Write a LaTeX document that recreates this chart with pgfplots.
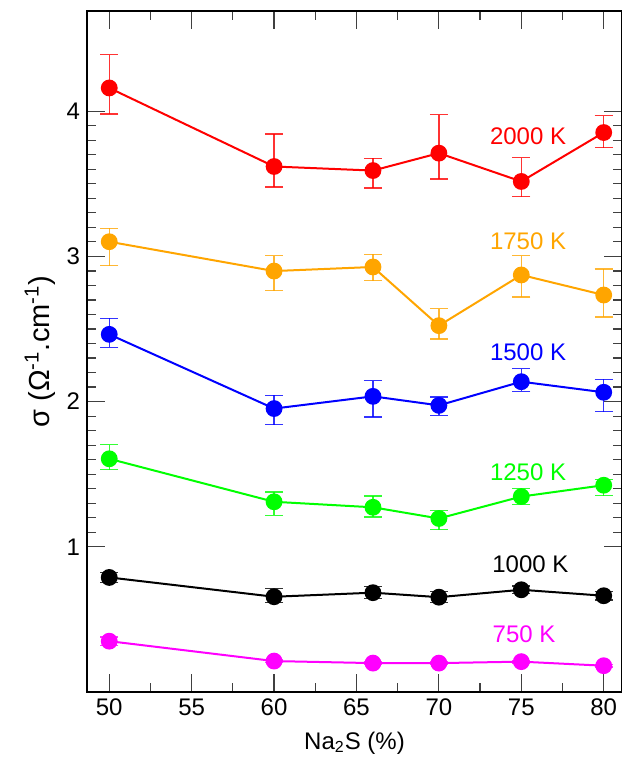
\documentclass[border=0pt]{standalone}
\usepackage{pgfplots}
\pgfplotsset{compat=1.18}
\usepackage{fontspec}
\setmainfont{Liberation Sans}
\definecolor{cred}{RGB}{255,0,0}
\definecolor{corange}{RGB}{255,165,0}
\definecolor{cblue}{RGB}{0,0,255}
\definecolor{cgreen}{RGB}{0,255,0}
\definecolor{cmag}{RGB}{255,0,255}
\newcommand{\fs}{\fontsize{12}{14}\selectfont}
\begin{document}
\begin{tikzpicture}
\begin{axis}[
  scale only axis,
  width=267.5pt, height=340.5pt,
  xmin=48.65, xmax=81.11, ymin=0, ymax=4.69,
  xtick={50,55,60,65,70,75,80},
  minor x tick num=1,
  ytick={1,2,3,4},
  minor y tick num=9,
  tick align=inside,
  major tick length=9pt, minor tick length=4.5pt,
  tick style={line width=0.6pt, color=black!75},
  axis line style={line width=1pt, black},
  /pgf/number format/assume math mode=true,
  ticklabel style={font=\fs},
  xlabel={Na\textsubscript{2}S (\%)},
  ylabel={σ (Ω\textsuperscript{-1}.cm\textsuperscript{-1})},
  xlabel style={font=\fs, at={(axis description cs:0.5,-0.0749)}, anchor=center},
  ylabel style={font=\fontsize{14.5}{16}\selectfont, at={(axis description cs:-0.0879,0.5)}, anchor=center},
  every axis plot/.append style={line width=1pt, mark=*, mark size=3.7pt},
  error bars/y dir=both, error bars/y explicit,
  error bars/error bar style={line width=0.7pt, opacity=0.8},
  error bars/error mark options={rotate=90, mark size=4.5pt, line width=0.7pt, opacity=0.8},
]
% 2000 K
\addplot[color=cred, mark options={fill=cred}] coordinates {
 (50,4.160) += (0,0.230) -= (0,0.179)
 (60,3.619) += (0,0.224) -= (0,0.142)
 (66,3.591) += (0,0.084) -= (0,0.121)
 (70,3.711) += (0,0.266) -= (0,0.179)
 (75,3.516) += (0,0.164) -= (0,0.104)
 (80,3.853) += (0,0.117) -= (0,0.105)
};
% 1750 K
\addplot[color=corange, mark options={fill=corange}] coordinates {
 (50,3.101) += (0,0.092) -= (0,0.165)
 (60,2.899) += (0,0.107) -= (0,0.135)
 (66,2.927) += (0,0.086) -= (0,0.095)
 (70,2.523) += (0,0.117) -= (0,0.092)
 (75,2.872) += (0,0.134) -= (0,0.152)
 (80,2.734) += (0,0.179) -= (0,0.151)
};
% 1500 K
\addplot[color=cblue, mark options={fill=cblue}] coordinates {
 (50,2.463) += (0,0.110) -= (0,0.090)
 (60,1.952) += (0,0.091) -= (0,0.110)
 (66,2.036) += (0,0.108) -= (0,0.141)
 (70,1.974) += (0,0.058) -= (0,0.068)
 (75,2.137) += (0,0.090) -= (0,0.066)
 (80,2.064) += (0,0.089) -= (0,0.133)
};
% 1250 K
\addplot[color=cgreen, mark options={fill=cgreen}] coordinates {
 (50,1.606) += (0,0.098) -= (0,0.074)
 (60,1.310) += (0,0.066) -= (0,0.093)
 (66,1.272) += (0,0.079) -= (0,0.066)
 (70,1.195) += (0,0.055) -= (0,0.076)
 (75,1.346) += (0,0.057) -= (0,0.055)
 (80,1.424) += (0,0.041) -= (0,0.071)
};
% 1000 K
\addplot[color=black, mark options={fill=black}] coordinates {
 (50,0.789) += (0,0.035) -= (0,0.035)
 (60,0.656) += (0,0.055) -= (0,0.041)
 (66,0.684) += (0,0.041) -= (0,0.040)
 (70,0.653) += (0,0.041) -= (0,0.038)
 (75,0.704) += (0,0.025) -= (0,0.025)
 (80,0.663) += (0,0.030) -= (0,0.030)
};
% 750 K
\addplot[color=cmag, mark options={fill=cmag}] coordinates {
 (50,0.350) += (0,0.030) -= (0,0.030)
 (60,0.213) += (0,0.010) -= (0,0.010)
 (66,0.199) += (0,0.010) -= (0,0.010)
 (70,0.199) += (0,0.010) -= (0,0.010)
 (75,0.209) += (0,0.010) -= (0,0.010)
 (80,0.181) += (0,0.010) -= (0,0.010)
};
\node[font=\fs, text=cred] at (axis cs:75.41,3.826) {2000 K};
\node[font=\fs, text=corange] at (axis cs:75.41,3.104) {1750 K};
\node[font=\fs, text=cblue] at (axis cs:75.41,2.337) {1500 K};
\node[font=\fs, text=cgreen] at (axis cs:75.41,1.511) {1250 K};
\node[font=\fs, text=black] at (axis cs:75.55,0.878) {1000 K};
\node[font=\fs, text=cmag] at (axis cs:75.17,0.397) {750 K};
\end{axis}
\pgfresetboundingbox
\path ([shift={(-43.5pt,-34pt)}]current axis.south west) rectangle ([shift={(-0.3pt,5.5pt)}]current axis.north east);
\end{tikzpicture}
\end{document}
